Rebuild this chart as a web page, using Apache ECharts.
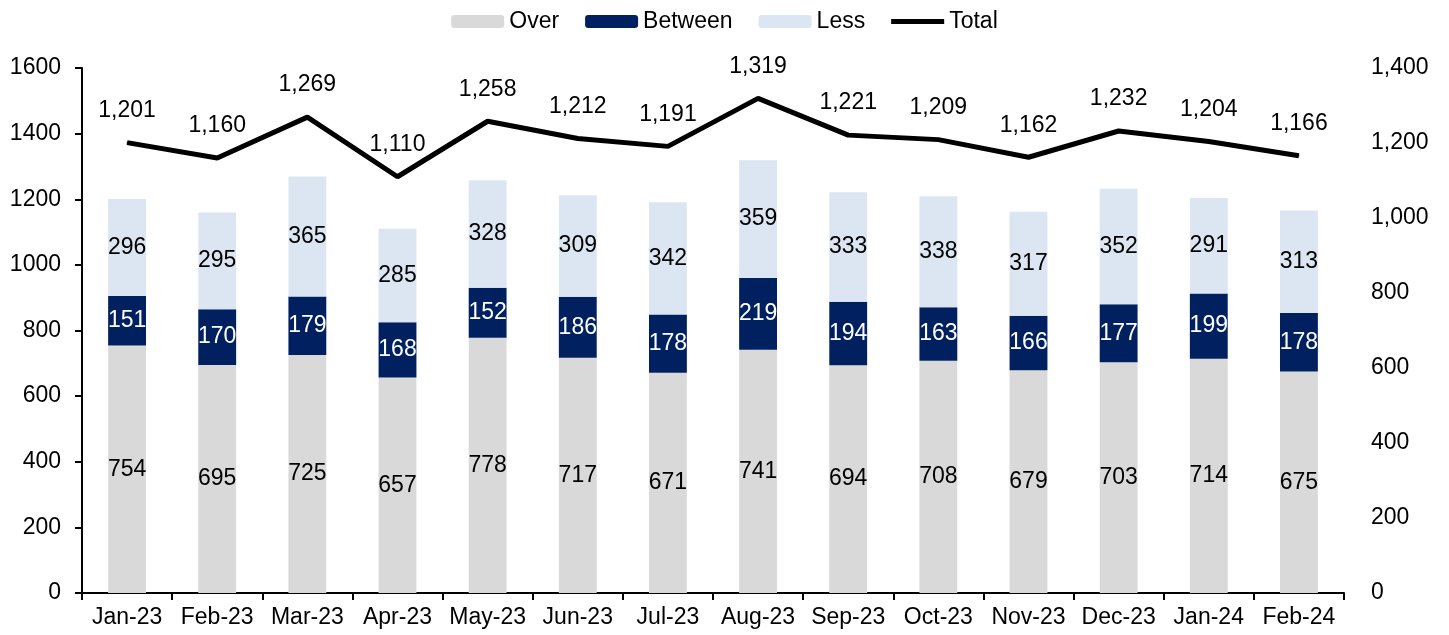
<!DOCTYPE html>
<html>
<head>
<meta charset="utf-8">
<script src="https://cdn.jsdelivr.net/npm/echarts@6/dist/echarts.min.js"></script>
<style>
  html, body { margin: 0; padding: 0; background: #fff; }
  #main { width: 1449px; height: 635px; }
</style>
</head>
<body>
<div id="main"></div>
<script>
const months = ['Jan-23', 'Feb-23', 'Mar-23', 'Apr-23', 'May-23', 'Jun-23', 'Jul-23',
  'Aug-23', 'Sep-23', 'Oct-23', 'Nov-23', 'Dec-23', 'Jan-24', 'Feb-24'];
const over = [754, 695, 725, 657, 778, 717, 671, 741, 694, 708, 679, 703, 714, 675];
const between = [151, 170, 179, 168, 152, 186, 178, 219, 194, 163, 166, 177, 199, 178];
const less = [296, 295, 365, 285, 328, 309, 342, 359, 333, 338, 317, 352, 291, 313];
const total = [1201, 1160, 1269, 1110, 1258, 1212, 1191, 1319, 1221, 1209, 1162, 1232, 1204, 1166];

const font = 'Arial, "Liberation Sans", sans-serif';
const fs = 23;

const chart = echarts.init(document.getElementById('main'));

function barSeries(name, data, color, labelColor) {
  return {
    name: name,
    type: 'bar',
    stack: 'all',
    barWidth: '42%',
    data: data,
    itemStyle: { color: color },
    label: {
      show: true,
      position: 'inside',
      color: labelColor,
      fontSize: fs,
      fontFamily: font
    }
  };
}

const option = {
  animation: false,
  textStyle: { fontFamily: font },
  legend: {
    top: 5,
    left: 'center',
    itemWidth: 53,
    itemHeight: 13,
    itemGap: 26,
    textStyle: { fontSize: fs, color: '#000', fontFamily: font },
    data: [
      { name: 'Over' },
      { name: 'Between' },
      { name: 'Less' },
      { name: 'Total', icon: 'path://M0,4 L53,4 L53,9 L0,9 Z' }
    ]
  },
  grid: { left: 82, right: 105, top: 68, bottom: 42 },
  xAxis: {
    type: 'category',
    data: months,
    axisLine: { lineStyle: { color: '#000', width: 2 } },
    axisTick: { show: true, interval: 0, length: 7, lineStyle: { color: '#000', width: 2 } },
    axisLabel: { interval: 0, fontSize: fs, color: '#000', margin: 13 }
  },
  yAxis: [{
    type: 'value',
    min: 0,
    max: 1600,
    interval: 200,
    splitLine: { show: false },
    axisLine: { show: true, lineStyle: { color: '#000', width: 2 } },
    axisTick: { show: true, length: 7, lineStyle: { color: '#000', width: 2 } },
    axisLabel: { fontSize: fs, color: '#000', margin: 21, formatter: v => String(v) }
  }, {
    type: 'value',
    min: 0,
    max: 1400,
    interval: 200,
    splitLine: { show: false },
    axisLine: { show: false },
    axisTick: { show: false },
    axisLabel: {
      fontSize: fs,
      color: '#000',
      margin: 27,
      formatter: v => v.toLocaleString('en-US')
    }
  }],
  series: [
    barSeries('Over', over, '#D9D9D9', '#000'),
    barSeries('Between', between, '#002060', '#fff'),
    barSeries('Less', less, '#DCE6F2', '#000'),
    {
      name: 'Total',
      type: 'line',
      yAxisIndex: 1,
      data: total,
      symbol: 'circle',
      symbolSize: 1,
      showSymbol: true,
      itemStyle: { color: '#000' },
      lineStyle: { color: '#000', width: 5 },
      label: {
        show: true,
        position: 'top',
        distance: 20,
        color: '#000',
        fontSize: fs,
        fontFamily: font,
        formatter: p => p.value.toLocaleString('en-US')
      }
    }
  ]
};

chart.setOption(option);
</script>
</body>
</html>
